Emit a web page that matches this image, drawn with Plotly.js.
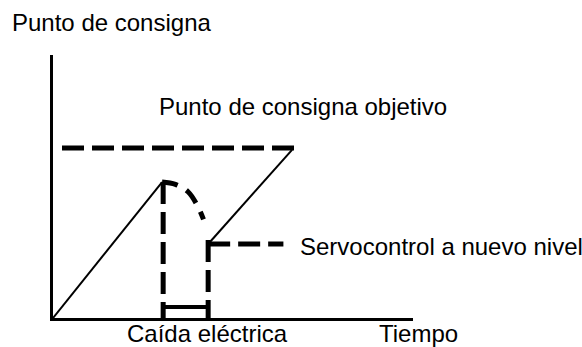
<!DOCTYPE html>
<html>
<head>
<meta charset="utf-8">
<script src="https://cdn.plot.ly/plotly-3.0.1.min.js"></script>
<style>
  html, body { margin: 0; padding: 0; background: #fff; }
  #chart { width: 582px; height: 347px; }
</style>
</head>
<body>
<div id="chart"></div>
<script>
// ── Data (time / setpoint in arbitrary units) ─────────────────────────────

const rampX = [0, 3.03];
const rampY = [0, 5.17];

const targetX = [0.25, 6.72];
const targetY = [6.46, 6.46];

const decayX = [3.03, 3.4, 3.75, 4.0, 4.18];
const decayY = [5.17, 5.08, 4.8, 4.3, 3.75];

const dropLeftX = [3.06, 3.06];
const dropLeftY = [5.17, 0];

const dropRightX = [4.31, 4.31];
const dropRightY = [2.97, 0];

const outageX = [3.06, 4.31];
const outageY = [0.42, 0.42];

const recoverX = [4.36, 6.64];
const recoverY = [2.89, 6.39];

const servoX = [4.31, 6.4];
const servoY = [2.81, 2.81];

// label anchors in paper units (left edge, vertical middle)
const labels = [
  'Punto de consigna',
  'Punto de consigna objetivo',
  'Servocontrol a nuevo nivel',
  'Caída eléctrica',
  'Tiempo',
];
const labelX = [-0.119, 0.289, 0.681, 0.2, 0.9];
const labelY = [1.125, 0.804, 0.272, -0.058, -0.058];

// ── Traces ────────────────────────────────────────────────────────────────

const DASH = '22px,8px';
const thin = { color: '#000', width: 2 };
const thick = { color: '#000', width: 5, dash: DASH };

function seg(x, y, line) {
  return { x, y, type: 'scatter', mode: 'lines', line, hoverinfo: 'skip', cliponaxis: false };
}

const traces = [
  seg(rampX, rampY, thin),
  seg(targetX, targetY, thick),
  seg(decayX, decayY, { color: '#000', width: 5, dash: '16px,10px', shape: 'spline' }),
  seg(dropLeftX, dropLeftY, thick),
  seg(dropRightX, dropRightY, thick),
  seg(outageX, outageY, { color: '#000', width: 4 }),
  seg(recoverX, recoverY, thin),
  seg(servoX, servoY, thick),
];

const annotations = labels.map((t, i) => ({
  text: t, x: labelX[i], y: labelY[i], xref: 'paper', yref: 'paper',
  xanchor: 'left', yanchor: 'middle', showarrow: false,
  font: { family: 'Liberation Sans, Arial, sans-serif', size: 24, color: '#000' },
}));

const AXIS = {
  showline: true, linecolor: '#000', linewidth: 3, mirror: false,
  showgrid: false, zeroline: false, showticklabels: false, ticks: '',
};

const layout = {
  width: 582, height: 347,
  margin: { l: 53, r: 169, t: 55, b: 29 },
  paper_bgcolor: '#fff', plot_bgcolor: '#fff',
  showlegend: false,
  xaxis: { ...AXIS, range: [0, 10] },
  yaxis: { ...AXIS, range: [0, 10] },
  annotations,
};

Plotly.newPlot('chart', traces, layout, { staticPlot: true, displayModeBar: false });
</script>
</body>
</html>
